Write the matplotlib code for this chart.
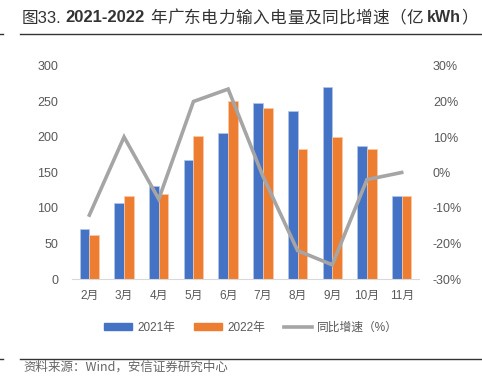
import matplotlib
matplotlib.use("Agg")
import matplotlib.pyplot as plt
import numpy as np
from matplotlib.lines import Line2D
from matplotlib.patches import Patch

plt.rcParams['font.family'] = ['Liberation Sans', 'Noto Sans CJK SC', 'DejaVu Sans']

months = ["2月", "3月", "4月", "5月", "6月", "7月", "8月", "9月", "10月", "11月"]
v2021 = [71, 107, 131, 168, 205, 248, 237, 270, 188, 117]
v2022 = [62, 117, 120, 201, 250, 241, 183, 200, 183, 117]
yoy = [-12, 10, -7.5, 20, 23.5, -1, -22, -26, -2, 0]

blue = "#4472C4"
orange = "#ED7D31"
gray = "#A5A5A5"
tc = "#595959"

W, H = 482, 389
fig = plt.figure(figsize=(W/100, H/100), dpi=100)
ax = fig.add_axes([72/W, 1-279/H, (419-72)/W, (279-66)/H])
ax2 = ax.twinx()

x = np.arange(len(months))
w = 0.28
ax.bar(x - w/2, v2021, w, color=blue, edgecolor="#B4C7E7", linewidth=0.5, zorder=2)
ax.bar(x + w/2, v2022, w, color=orange, edgecolor="#F8CBAD", linewidth=0.5, zorder=2)
ax2.plot(x, yoy, color=gray, linewidth=2.6, solid_joinstyle="miter", zorder=3)

ax.set_xlim(-0.5, len(months)-0.5)
ax.set_ylim(0, 300)
ax.set_yticks(range(0, 301, 50))
ax2.set_ylim(-30, 30)
ax2.set_yticks(range(-30, 31, 10))
ax2.set_yticklabels([f"{t}%" for t in range(-30, 31, 10)])
ax.set_xticks(x)
ax.set_xticklabels(months)

for a in (ax, ax2):
    for s in a.spines.values():
        s.set_visible(False)
    a.tick_params(length=0, labelsize=9, colors=tc)
ax.spines['bottom'].set_visible(True)
ax.spines['bottom'].set_color("#D9D9D9")
ax.tick_params(axis='y', pad=10)
ax2.tick_params(axis='y', pad=10)
ax.tick_params(axis='x', pad=8, labelsize=8.5)

handles = [Patch(color=blue), Patch(color=orange), Line2D([], [], color=gray, lw=2.6)]
labels = ["2021年", "2022年", "同比增速（%）"]
fig.legend(handles, labels, loc="center", bbox_to_anchor=(251/W, 1-328/H), ncol=3,
           frameon=False, labelcolor=tc, handlelength=2.4, handleheight=0.5,
           handletextpad=0.4, columnspacing=1.6,
           prop={'family': ['Liberation Sans', 'Noto Sans CJK SC'], 'size': 8.5})

# Title built from pieces with mixed weights
renderer = fig.canvas.get_renderer()
ty = 1 - 18/H
tcol = "#333333"
fig.text(22/W, ty, "图33.", fontsize=12, color=tcol, va="center", ha="left",
         family=['Liberation Sans', 'Noto Sans CJK SC'])
fig.text(65/W, ty, "2021-2022", fontsize=12, color=tcol, va="center", ha="left",
         weight="bold", family=['Liberation Sans'])
xpos = 150.0
for ch in "年广东电力输入电量及同比增速（亿":
    fig.text(xpos/W, ty, ch, fontsize=12, color=tcol, va="center", ha="left",
             family=['Noto Sans CJK SC'])
    xpos += 17.1
xpos += 3
t = fig.text(xpos/W, ty, "kWh", fontsize=11.5, color=tcol, va="center", ha="left",
             weight="bold", family=['Liberation Sans'])
xpos += t.get_window_extent(renderer).width + 1
fig.text(xpos/W, ty, "）", fontsize=12, color=tcol, va="center", ha="left",
         family=['Noto Sans CJK SC'])

fig.add_artist(Line2D([20/W, 1], [1-34/H, 1-34/H], color="#333333", lw=1.0))
fig.add_artist(Line2D([0, 3/W], [1-34/H, 1-34/H], color="#333333", lw=1.0))
fig.add_artist(Line2D([20/W, 1], [1-359/H, 1-359/H], color="#333333", lw=1.0))
fig.add_artist(Line2D([0, 3/W], [1-359/H, 1-359/H], color="#333333", lw=1.0))
fig.text(23/W, 1-367/H, "资料来源：Wind，安信证券研究中心", fontsize=9, color="#666666",
         va="center", ha="left", style="italic", family=['Noto Sans CJK SC', 'DejaVu Sans'])

fig.savefig("out.png", dpi=100)
